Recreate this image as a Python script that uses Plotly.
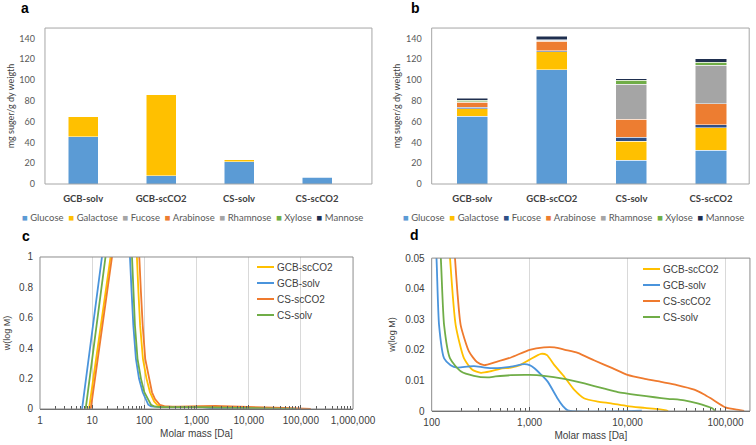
import plotly.graph_objects as go

# ---------------- data ----------------
CATEGORIES = ["GCB-solv", "GCB-scCO2", "CS-solv", "CS-scCO2"]
SUGARS = ["Glucose", "Galactose", "Fucose", "Arabinose", "Rhamnose", "Xylose", "Mannose"]

# panel a (mg sugar / g dry weight)
A_GLUCOSE = [45.5, 8.0, 21.5, 6.4]
A_GALACTOSE = [19.9, 78.5, 2.2, 1.3]
A_FUCOSE = [0, 0, 0, 0]
A_ARABINOSE = [0, 0, 0, 0]
A_RHAMNOSE = [0, 0, 0, 0]
A_XYLOSE = [0, 0, 0, 0]
A_MANNOSE = [0, 0, 0, 0]

# panel b
B_GLUCOSE = [65.0, 110.0, 23.0, 32.7]
B_GALACTOSE = [7.5, 17.0, 18.0, 21.4]
B_FUCOSE = [1.5, 1.0, 4.2, 2.9]
B_ARABINOSE = [4.5, 9.5, 17.0, 20.2]
B_RHAMNOSE = [0.8, 0.6, 33.6, 36.8]
B_XYLOSE = [1.2, 0.4, 4.2, 3.0]
B_MANNOSE = [1.8, 3.6, 1.2, 3.5]

GCB_SCCO2_M = [8.7, 22.5, 35, 72, 77, 83, 94, 110, 128, 145, 154, 176, 214, 260, 318, 400, 500, 645,
               800, 1000, 1306, 1500, 1790, 2260, 2860, 3630, 5000, 6800, 10000, 15000, 24000, 26000]
GCB_SCCO2_W = [0, 1.0, 1.6, 1.0, 0.77, 0.55, 0.33, 0.2, 0.11, 0.065, 0.05, 0.028, 0.0172, 0.0135,
               0.0125, 0.013, 0.0138, 0.0142, 0.015, 0.0168, 0.0187, 0.0183, 0.015, 0.0112, 0.0069,
               0.0041, 0.0031, 0.0025, 0.0016, 0.001, 0.0003, 0.0]

GCB_SOLV_M = [6.4, 15.4, 25, 53, 57, 61.5, 69, 79, 93, 105, 112, 119, 134, 156, 183, 230, 270, 350,
              435, 645, 882, 1000, 1120, 1300, 1530, 1937, 2200, 2450, 14000]
GCB_SOLV_W = [0, 1.0, 1.6, 1.0, 0.77, 0.55, 0.33, 0.2, 0.11, 0.065, 0.05, 0.028, 0.0172, 0.015,
              0.0142, 0.0145, 0.0147, 0.0142, 0.014, 0.0145, 0.0153, 0.015, 0.014, 0.012, 0.0096,
              0.004, 0.0015, 0.0002, 0.0001]

CS_SCCO2_M = [9.4, 24, 38, 80, 86, 93, 104, 122, 140, 160, 173, 183, 198, 241, 290, 343, 450, 645,
              1000, 1400, 1800, 2300, 3100, 4600, 7000, 10000, 15000, 22000, 32000, 48000, 60000,
              72000, 100000, 140000, 155000]
CS_SCCO2_W = [0, 1.0, 1.6, 1.0, 0.77, 0.55, 0.33, 0.2, 0.11, 0.065, 0.05, 0.039, 0.028, 0.0194,
              0.016, 0.015, 0.016, 0.0175, 0.02, 0.0208, 0.0208, 0.02, 0.019, 0.0165, 0.014, 0.0118,
              0.0105, 0.0095, 0.0085, 0.007, 0.0055, 0.004, 0.0012, 0.0003, 0.0]

CS_SOLV_M = [7.5, 18, 28, 58, 62, 66, 74, 86, 100, 115, 124, 134, 154, 198, 270, 371, 450, 645, 1000,
             1400, 2260, 3630, 5800, 7950, 12800, 18900, 25800, 38000, 52000, 65000, 74000, 78000]
CS_SOLV_W = [0, 1.0, 1.6, 1.0, 0.77, 0.55, 0.33, 0.2, 0.11, 0.065, 0.05, 0.028, 0.0172, 0.013,
             0.0115, 0.011, 0.0113, 0.0117, 0.0118, 0.0115, 0.0105, 0.009, 0.0073, 0.0062, 0.0052,
             0.0045, 0.004, 0.0035, 0.0025, 0.0015, 0.0008, 0.0]

# ---------------- styles ----------------
SUGAR_COLORS_B = ["#5B9BD5", "#FFC000", "#2E4F86", "#ED7D31", "#A5A5A5", "#70AD47", "#1F2F4F"]
SUGAR_COLORS_A = ["#5B9BD5", "#FFC000", "#A5A5A5", "#ED7D31", "#A5A5A5", "#70AD47", "#1F2F4F"]

SERIES = [
    ("GCB-scCO2", GCB_SCCO2_M, GCB_SCCO2_W, "#FFC000"),
    ("GCB-solv", GCB_SOLV_M, GCB_SOLV_W, "#4A94DC"),
    ("CS-scCO2", CS_SCCO2_M, CS_SCCO2_W, "#EF7A2E"),
    ("CS-solv", CS_SOLV_M, CS_SOLV_W, "#70AD47"),
]

BAR_FONT = "Lato"
LINE_FONT = "Liberation Sans"
W, H = 756, 445

fig = go.Figure()

a_vals = [A_GLUCOSE, A_GALACTOSE, A_FUCOSE, A_ARABINOSE, A_RHAMNOSE, A_XYLOSE, A_MANNOSE]
b_vals = [B_GLUCOSE, B_GALACTOSE, B_FUCOSE, B_ARABINOSE, B_RHAMNOSE, B_XYLOSE, B_MANNOSE]

for name, vals, col in zip(SUGARS, a_vals, SUGAR_COLORS_A):
    fig.add_trace(go.Bar(x=CATEGORIES, y=vals, name=name, marker_color=col,
                         marker_line=dict(color="white", width=0.5), width=0.385,
                         showlegend=False, xaxis="x", yaxis="y"))
for name, vals, col in zip(SUGARS, b_vals, SUGAR_COLORS_B):
    fig.add_trace(go.Bar(x=CATEGORIES, y=vals, name=name, marker_color=col,
                         marker_line=dict(color="white", width=0.5), width=0.39,
                         showlegend=False, xaxis="x2", yaxis="y2"))

# panel c: straight segments; panel d: smoothed curves
for xa, ya, shape in [("x3", "y3", "linear"), ("x4", "y4", "spline")]:
    for name, m, w, col in SERIES:
        line = dict(color=col, width=1.8, shape=shape)
        if shape == "spline":
            line["smoothing"] = 0.6
        fig.add_trace(go.Scatter(x=m, y=w, mode="lines", name=name, showlegend=False,
                                 line=line, xaxis=xa, yaxis=ya))

bar_tick = dict(family=BAR_FONT, size=9, color="#595959")
cat_tick = dict(family=BAR_FONT, size=9.5, color="#404040", weight="bold")
line_tick = dict(family=LINE_FONT, size=10, color="#404040")


def bar_x(domain, rng, anchor):
    return dict(domain=domain, anchor=anchor, type="category", range=rng, showline=False, ticks="",
                tickfont=cat_tick, showgrid=False, zeroline=False, ticklabelstandoff=7,
                automargin=False)


def bar_y(domain, anchor):
    return dict(domain=domain, anchor=anchor, range=[0, 150], tick0=0, dtick=20, showgrid=False,
                zeroline=False, showline=False, ticks="", tickfont=bar_tick, ticklabelstandoff=9,
                automargin=False,
                title=dict(text="mg suger/g dy weigth",
                           font=dict(family=BAR_FONT, size=9, color="#404040"), standoff=3))


def log_x(domain, anchor, rng):
    return dict(domain=domain, anchor=anchor, type="log", range=rng, dtick=1, tickformat=",",
                showgrid=True, gridcolor="#D9D9D9", gridwidth=1, zeroline=False,
                showline=True, linecolor="#595959", linewidth=1, ticks="inside", ticklen=4,
                tickcolor="#595959", automargin=False,
                minor=dict(ticks="inside", ticklen=3, tickcolor="#595959", showgrid=False),
                tickfont=line_tick, ticklabelstandoff=2,
                title=dict(text="Molar mass [Da]", font=dict(family=LINE_FONT, size=10, color="#404040"),
                           standoff=4))


def lin_y(domain, anchor, rng, dt, standoff):
    return dict(domain=domain, anchor=anchor, range=rng, dtick=dt, showgrid=False, zeroline=False,
                showline=False, ticks="", tickfont=line_tick, ticklabelstandoff=6, automargin=False,
                title=dict(text="w(log M)", font=dict(family=LINE_FONT, size=9, color="#404040"),
                           standoff=standoff))


fig.update_layout(
    template="none",
    width=W, height=H, margin=dict(l=0, r=0, t=0, b=0, pad=0),
    paper_bgcolor="white", plot_bgcolor="white", barmode="stack", showlegend=False,
    xaxis=bar_x([0.0595, 0.492], [-0.49, 3.705], "y"),
    yaxis=bar_y([0.5865, 0.937], "x"),
    xaxis2=bar_x([0.571, 0.991], [-0.51, 3.48], "y2"),
    yaxis2=bar_y([0.5865, 0.937], "x2"),
    xaxis3=log_x([0.0529, 0.467], "y3", [0, 6]),
    yaxis3=lin_y([0.0809, 0.4225], "x3", [0, 1], 0.2, 6),
    xaxis4=log_x([0.571, 0.992], "y4", [2, 5.25]),
    yaxis4=lin_y([0.0764, 0.420], "x4", [0, 0.05], 0.01, 8),
)

# plot-area frames
for xr, yr, col in [("x", "y", "#A6A6A6"), ("x2", "y2", "#A6A6A6"),
                    ("x3", "y3", "#8C8C8C"), ("x4", "y4", "#8C8C8C")]:
    fig.add_shape(type="rect", xref=f"{xr} domain", yref=f"{yr} domain", x0=0, x1=1, y0=0, y1=1,
                  line=dict(color=col, width=1), fillcolor="rgba(0,0,0,0)", layer="above")


# bar legends as text
def legend_text(colors):
    parts = [f"<span style='color:{c}'>■</span>\u00a0{n}" for n, c in zip(SUGARS, colors)]
    return "\u00a0\u00a0".join(parts)


for xc, cols in [(192 / W, SUGAR_COLORS_A), (573 / W, SUGAR_COLORS_B)]:
    fig.add_annotation(x=xc, y=1 - 217 / H, xref="paper", yref="paper", text=legend_text(cols),
                       showarrow=False, xanchor="center", yanchor="middle",
                       font=dict(family=BAR_FONT, size=9.5, color="#595959"))

# line legends (sample line + label) for panels c and d
for text_x, y0 in [(275, 267), (661, 269)]:
    for i, (name, _m, _w, col) in enumerate(SERIES):
        yy = 1 - (y0 + 16 * i) / H
        fig.add_shape(type="line", xref="paper", yref="paper", x0=(text_x - 18) / W,
                      x1=(text_x - 1) / W, y0=yy, y1=yy, line=dict(color=col, width=2))
        fig.add_annotation(x=text_x / W, y=yy, xref="paper", yref="paper", text=name,
                           showarrow=False, xanchor="left", yanchor="middle",
                           font=dict(family=LINE_FONT, size=10, color="#404040"))

# panel letters
for letter, px, py in [("a", 25, 8), ("b", 415, 8), ("c", 26, 236), ("d", 414, 235)]:
    fig.add_annotation(x=px / W, y=1 - py / H, xref="paper", yref="paper", text=f"<b>{letter}</b>",
                       showarrow=False, xanchor="center", yanchor="middle",
                       font=dict(family=LINE_FONT, size=14, color="black"))

fig.write_html("out.html", config={"displayModeBar": False},
               post_script="document.body.style.margin='0px';document.body.style.overflow='hidden';")
